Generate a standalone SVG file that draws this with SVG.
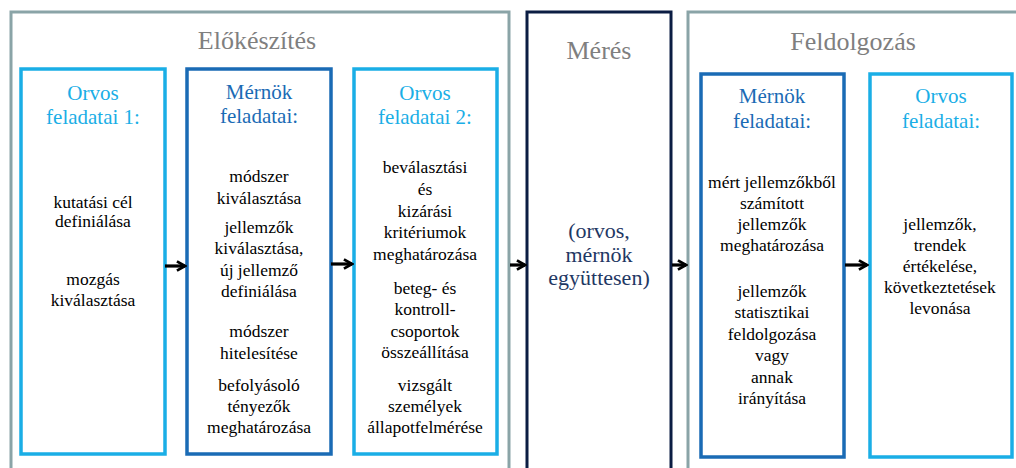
<svg xmlns="http://www.w3.org/2000/svg" width="1016" height="468" viewBox="0 0 1016 468">
<defs>
<marker id="ah" viewBox="0 0 10 10" refX="8.5" refY="5" markerWidth="3.6" markerHeight="4.2" orient="auto" markerUnits="strokeWidth">
<path d="M1.5,1 L8.5,5 L1.5,9" fill="none" stroke="#000" stroke-width="2.4"/>
</marker>
<style>
.phase{fill:#fff;stroke:#8aa4a7;stroke-width:3}
.meres{fill:#fff;stroke:#0b1d43;stroke-width:3}
.lb{fill:#fff;stroke:#1aaee6;stroke-width:3.5}
.mb{fill:#fff;stroke:#1a6bb5;stroke-width:3.5}
text{font-family:"Liberation Serif","Times New Roman",serif;text-anchor:middle}
.title{font-size:26px;fill:#7f7f7f}
.hl{font-size:21px;fill:#1aaee6}
.hm{font-size:21px;fill:#1a6bb5}
.hn{font-size:22px;fill:#1f3864}
.b{font-size:17.5px;fill:#000}
.conn{stroke:#000;stroke-width:3.2;fill:none}
</style>
</defs>
<g id="elokeszites">
<rect class="phase" x="11" y="12" width="498" height="470"/>
<text class="title" x="257" y="49">Előkészítés</text>
</g>
<g id="orvos1">
<rect class="lb" x="21" y="69" width="144" height="385"/>
<text class="hl" x="93" y="100">Orvos</text>
<text class="hl" x="93" y="124">feladatai 1:</text>
<text class="b" x="93" y="208">kutatási cél</text>
<text class="b" x="93" y="227">definiálása</text>
<text class="b" x="93" y="285">mozgás</text>
<text class="b" x="93" y="306">kiválasztása</text>
</g>
<g id="mernok1">
<rect class="mb" x="187" y="69" width="144" height="385"/>
<text class="hm" x="259" y="99">Mérnök</text>
<text class="hm" x="259" y="123">feladatai:</text>
<text class="b" x="259" y="182">módszer</text>
<text class="b" x="259" y="204">kiválasztása</text>
<text class="b" x="259" y="233">jellemzők</text>
<text class="b" x="259" y="254">kiválasztása,</text>
<text class="b" x="259" y="276">új jellemző</text>
<text class="b" x="259" y="297">definiálása</text>
<text class="b" x="259" y="337">módszer</text>
<text class="b" x="259" y="359">hitelesítése</text>
<text class="b" x="259" y="391">befolyásoló</text>
<text class="b" x="259" y="412">tényezők</text>
<text class="b" x="259" y="433">meghatározása</text>
</g>
<g id="orvos2">
<rect class="lb" x="354" y="69" width="143" height="385"/>
<text class="hl" x="425" y="100">Orvos</text>
<text class="hl" x="425" y="124">feladatai 2:</text>
<text class="b" x="425" y="173">beválasztási</text>
<text class="b" x="425" y="195">és</text>
<text class="b" x="425" y="217">kizárási</text>
<text class="b" x="425" y="238">kritériumok</text>
<text class="b" x="425" y="260">meghatározása</text>
<text class="b" x="425" y="294">beteg- és</text>
<text class="b" x="425" y="315">kontroll-</text>
<text class="b" x="425" y="337">csoportok</text>
<text class="b" x="425" y="358">összeállítása</text>
<text class="b" x="425" y="391">vizsgált</text>
<text class="b" x="425" y="412">személyek</text>
<text class="b" x="425" y="433">állapotfelmérése</text>
</g>
<g id="meres">
<rect class="meres" x="527" y="12" width="144" height="470"/>
<text class="title" x="599" y="59">Mérés</text>
<text class="hn" x="599" y="238">(orvos,</text>
<text class="hn" x="599" y="262">mérnök</text>
<text class="hn" x="599" y="285">együttesen)</text>
</g>
<g id="feldolgozas">
<rect class="phase" x="688" y="12" width="340" height="470"/>
<text class="title" x="853" y="50">Feldolgozás</text>
</g>
<g id="mernok2">
<rect class="mb" x="701" y="74" width="143" height="383"/>
<text class="hm" x="772" y="103">Mérnök</text>
<text class="hm" x="772" y="128">feladatai:</text>
<text class="b" x="772" y="188">mért jellemzőkből</text>
<text class="b" x="772" y="209">számított</text>
<text class="b" x="772" y="230">jellemzők</text>
<text class="b" x="772" y="251">meghatározása</text>
<text class="b" x="772" y="297">jellemzők</text>
<text class="b" x="772" y="318">statisztikai</text>
<text class="b" x="772" y="340">feldolgozása</text>
<text class="b" x="772" y="361">vagy</text>
<text class="b" x="772" y="383">annak</text>
<text class="b" x="772" y="404">irányítása</text>
</g>
<g id="orvos3">
<rect class="lb" x="870" y="74" width="142" height="383"/>
<text class="hl" x="941" y="103">Orvos</text>
<text class="hl" x="941" y="128">feladatai:</text>
<text class="b" x="940" y="230">jellemzők,</text>
<text class="b" x="940" y="251">trendek</text>
<text class="b" x="940" y="272">értékelése,</text>
<text class="b" x="940" y="293">következtetések</text>
<text class="b" x="940" y="314">levonása</text>
</g>
<g id="connectors">
<line class="conn" x1="165" y1="266" x2="185" y2="266" marker-end="url(#ah)"/>
<line class="conn" x1="331" y1="264" x2="352" y2="264" marker-end="url(#ah)"/>
<line class="conn" x1="510" y1="265" x2="525" y2="265" marker-end="url(#ah)"/>
<line class="conn" x1="672" y1="265" x2="686" y2="265" marker-end="url(#ah)"/>
<line class="conn" x1="845" y1="265" x2="867" y2="265" marker-end="url(#ah)"/>
</g>
</svg>
